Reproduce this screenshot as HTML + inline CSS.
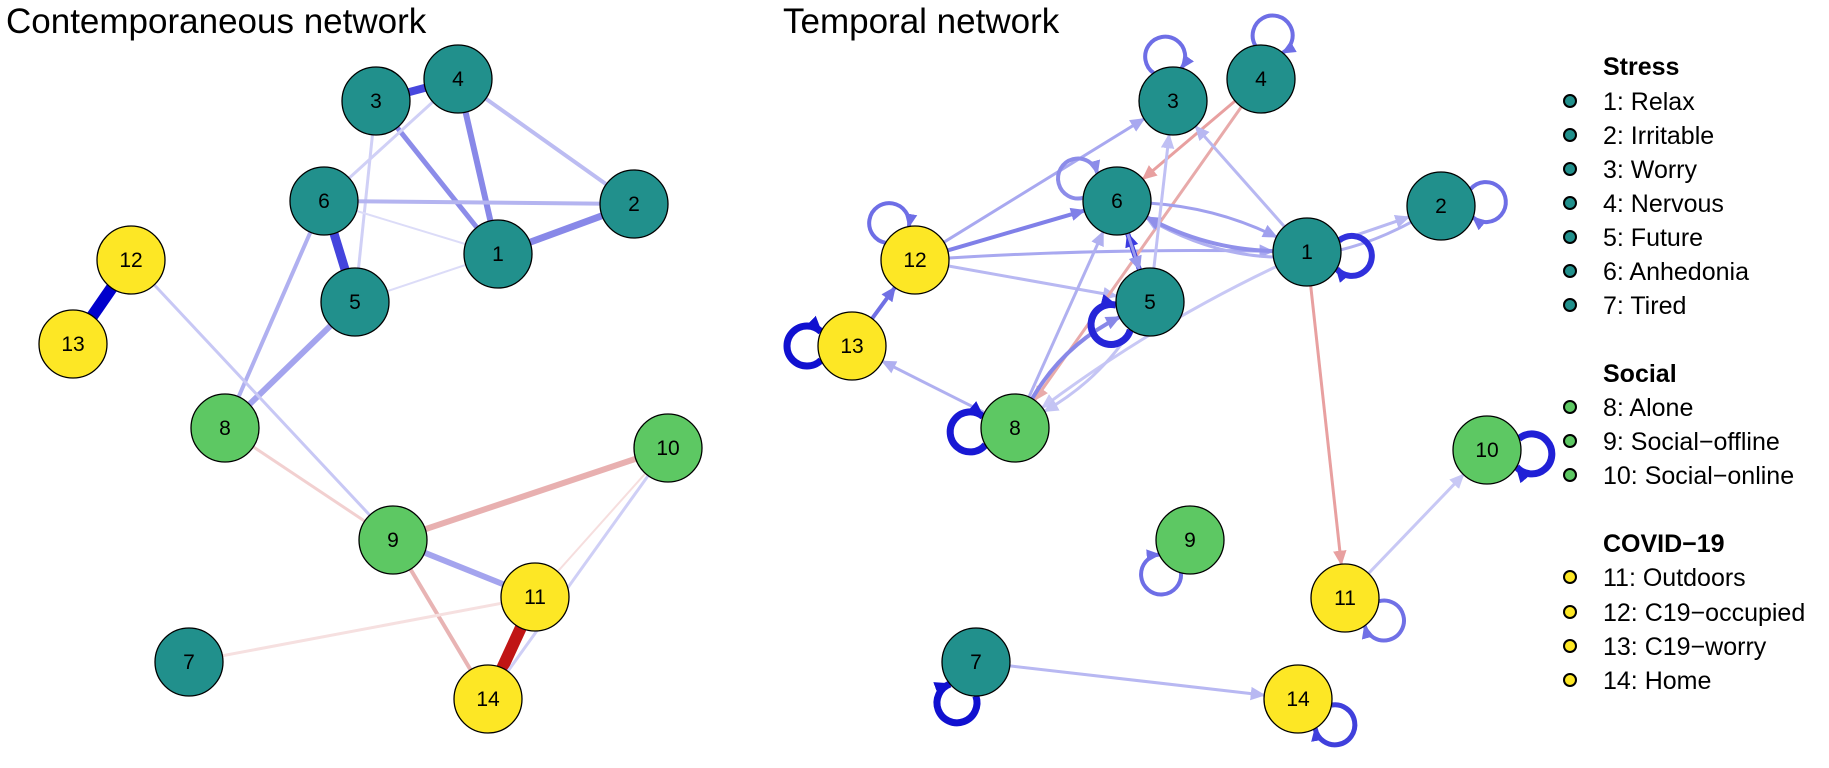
<!DOCTYPE html>
<html><head><meta charset="utf-8"><style>
body{margin:0;background:#fff;}
svg{display:block;}
text{font-family:"Liberation Sans",Arial,sans-serif;}
</style></head><body>
<svg id="s" width="1829" height="768" viewBox="0 0 1829 768" xmlns="http://www.w3.org/2000/svg">
<defs id="defs"></defs>
<rect width="1829" height="768" fill="#fff"/>
<text x="6" y="33" font-size="35">Contemporaneous network</text>
<text x="783" y="33" font-size="35">Temporal network</text>
<g id="edges"></g>
<g id="nodes" stroke="#000" stroke-width="1.3"></g>
<g id="labels" font-size="21" text-anchor="middle"></g>
<g font-size="25">
<text x="1603" y="75" font-weight="bold">Stress</text>
<text x="1603" y="110">1: Relax</text>
<text x="1603" y="144">2: Irritable</text>
<text x="1603" y="178">3: Worry</text>
<text x="1603" y="212">4: Nervous</text>
<text x="1603" y="246">5: Future</text>
<text x="1603" y="280">6: Anhedonia</text>
<text x="1603" y="314">7: Tired</text>
<text x="1603" y="382" font-weight="bold">Social</text>
<text x="1603" y="416">8: Alone</text>
<text x="1603" y="450">9: Social−offline</text>
<text x="1603" y="484">10: Social−online</text>
<text x="1603" y="552" font-weight="bold">COVID−19</text>
<text x="1603" y="586">11: Outdoors</text>
<text x="1603" y="621">12: C19−occupied</text>
<text x="1603" y="655">13: C19−worry</text>
<text x="1603" y="689">14: Home</text>
</g>
<g stroke="#000" stroke-width="2">
<circle cx="1570" cy="101" r="6" fill="#21908C"/><circle cx="1570" cy="135" r="6" fill="#21908C"/>
<circle cx="1570" cy="169" r="6" fill="#21908C"/><circle cx="1570" cy="203" r="6" fill="#21908C"/>
<circle cx="1570" cy="237" r="6" fill="#21908C"/><circle cx="1570" cy="271" r="6" fill="#21908C"/>
<circle cx="1570" cy="305" r="6" fill="#21908C"/>
<circle cx="1570" cy="407" r="6" fill="#5DC863"/><circle cx="1570" cy="441" r="6" fill="#5DC863"/>
<circle cx="1570" cy="475" r="6" fill="#5DC863"/>
<circle cx="1570" cy="577" r="6" fill="#FDE725"/><circle cx="1570" cy="612" r="6" fill="#FDE725"/>
<circle cx="1570" cy="646" r="6" fill="#FDE725"/><circle cx="1570" cy="680" r="6" fill="#FDE725"/>
</g>
</svg>
<script>
var NS="http://www.w3.org/2000/svg",R=34;
var col={1:"#21908C",2:"#21908C",3:"#21908C",4:"#21908C",5:"#21908C",6:"#21908C",7:"#21908C",8:"#5DC863",9:"#5DC863",10:"#5DC863",11:"#FDE725",12:"#FDE725",13:"#FDE725",14:"#FDE725"};
var L={3:[376,101],4:[458,79],6:[324,201],2:[634,204],1:[498,254],12:[131,260],13:[73,344],5:[355,302],8:[225,428],10:[668,448],9:[393,540],11:[535,597],7:[189,662],14:[488,699]};
var Rt={3:[1173,101],4:[1261,79],6:[1117,201],2:[1441,206],1:[1307,252],12:[915,260],13:[852,346],5:[1150,302],8:[1015,428],10:[1487,450],9:[1190,540],11:[1345,598],7:[976,662],14:[1298,699]};
function el(t,a,p){var e=document.createElementNS(NS,t);for(var k in a)e.setAttribute(k,a[k]);(p||document.getElementById("edges")).appendChild(e);return e;}
var mid=0;
function marker(c,w,s){var id="m"+(mid++);s=s||Math.max(15,w*3);
 var m=el("marker",{id:id,markerUnits:"userSpaceOnUse",markerWidth:s,markerHeight:s,viewBox:"0 0 10 10",refX:9,refY:5,orient:"auto"},document.getElementById("defs"));
 el("path",{d:"M0,0.5 L10,5 L0,9.5 z",fill:c},m);return "url(#"+id+")";}
[[3,4,"#4848de",8],[3,1,"#8c8ce9",5],[4,1,"#8888e8",6],[4,2,"#bcbcf2",4],[4,6,"#d0d0f6",3],[3,5,"#d0d0f6",3],
 [6,2,"#b4b4f0",4],[6,1,"#dcdcf8",2],[1,2,"#8888e8",7],[6,5,"#4444dd",9],[5,1,"#dcdcf8",2],[6,8,"#b0b0f0",4],
 [5,8,"#a4a4ee",6],[12,13,"#0000cc",12],[12,9,"#c8c8f5",3],[8,9,"#f2d0d0",3],[9,10,"#e8b0b0",6],[9,11,"#a4a4ee",6],
 [9,14,"#e8b4b4",4],[11,14,"#c01515",12],[10,11,"#f6dede",2],[10,14,"#cfcff6",3],[7,11,"#f6e0e0",3]
].forEach(function(e){var a=L[e[0]],b=L[e[1]];el("line",{x1:a[0],y1:a[1],x2:b[0],y2:b[1],stroke:e[2],"stroke-width":e[3]});});
function edge(f,t,c,w,k){var a=Rt[f],b=Rt[t];var dx=b[0]-a[0],dy=b[1]-a[1];
 var cx=(a[0]+b[0])/2+dy*k,cy=(a[1]+b[1])/2-dx*k;
 function pt(p,q){var ux=q[0]-p[0],uy=q[1]-p[1],l=Math.hypot(ux,uy);return [p[0]+ux/l*R,p[1]+uy/l*R];}
 var s=pt(a,[cx,cy]),e=pt(b,[cx,cy]);
 el("path",{d:"M"+s[0]+","+s[1]+" Q"+cx+","+cy+" "+e[0]+","+e[1],fill:"none",stroke:c,"stroke-width":w,"marker-end":marker(c,w)});}
[[12,3,"#a8a8f0",3,0],[12,6,"#8080e8",4,0],[12,1,"#a8a8f0",3,0.02],[12,5,"#b8b8f2",3,0],[13,12,"#7070e4",4,0],
 [8,13,"#b0b0f0",3,0],[4,6,"#e8a0a0",3,0],[4,8,"#e8aaaa",3,0],[1,3,"#b8b8f2",3,0],[2,6,"#b0b0f0",3,0.28],
 [1,6,"#9090ea",4,0.12],[6,1,"#a0a0ee",3,0.1],[1,2,"#b8b8f2",3,0],[5,6,"#3a3ae0",5,0],[6,5,"#9898ec",3,0],
 [8,6,"#b0b0f0",3,0],[5,3,"#c0c0f4",3,0],[1,8,"#c8c8f5",3,-0.05],[8,5,"#8888e8",4,0.15],[5,8,"#c4c4f4",3,0.12],
 [1,11,"#e8a0a0",3,0],[11,10,"#c8c8f5",3,0],[7,14,"#b8b8f2",3,0]
].forEach(function(e){edge(e[0],e[1],e[2],e[3],e[4]);});
function loop(n,ang,c,w){var p=Rt[n],th=ang*Math.PI/180,d=R+11,r=20;
 var lc=[p[0]+d*Math.cos(th),p[1]+d*Math.sin(th)];
 var phi=Math.acos((d*d+r*r-R*R)/(2*d*r));
 var back=th+Math.PI;
 var s=[lc[0]+r*Math.cos(back+phi),lc[1]+r*Math.sin(back+phi)];
 var e=[lc[0]+r*Math.cos(back-phi),lc[1]+r*Math.sin(back-phi)];
 el("path",{d:"M"+s[0]+","+s[1]+" A"+r+","+r+" 0 1 1 "+e[0]+","+e[1],fill:"none",stroke:c,"stroke-width":w,"marker-end":marker(c,w,Math.max(14,w*2.4))});}
[[3,-100,"#6e6ee6",4],[4,-75,"#6e6ee6",4],[6,-150,"#8c8ce9",4],[2,-5,"#6e6ee6",4],[1,5,"#3030dc",6],[12,-125,"#6e6ee6",4],
 [13,180,"#1010d0",7],[5,150,"#2525d8",7],[8,175,"#1818d4",7],[10,5,"#2020d6",7],[9,130,"#6e6ee6",4],[11,30,"#7070e6",4],
 [7,115,"#1010d0",7],[14,35,"#4040dc",5]].forEach(function(l){loop(l[0],l[1],l[2],l[3]);});
var ng=document.getElementById("nodes"),lg=document.getElementById("labels");
[L,Rt].forEach(function(S){for(var k in S){el("circle",{cx:S[k][0],cy:S[k][1],r:R,fill:col[k]},ng);
 var t=el("text",{x:S[k][0],y:S[k][1]+7},lg);t.textContent=k;}});
</script>
</body></html>
